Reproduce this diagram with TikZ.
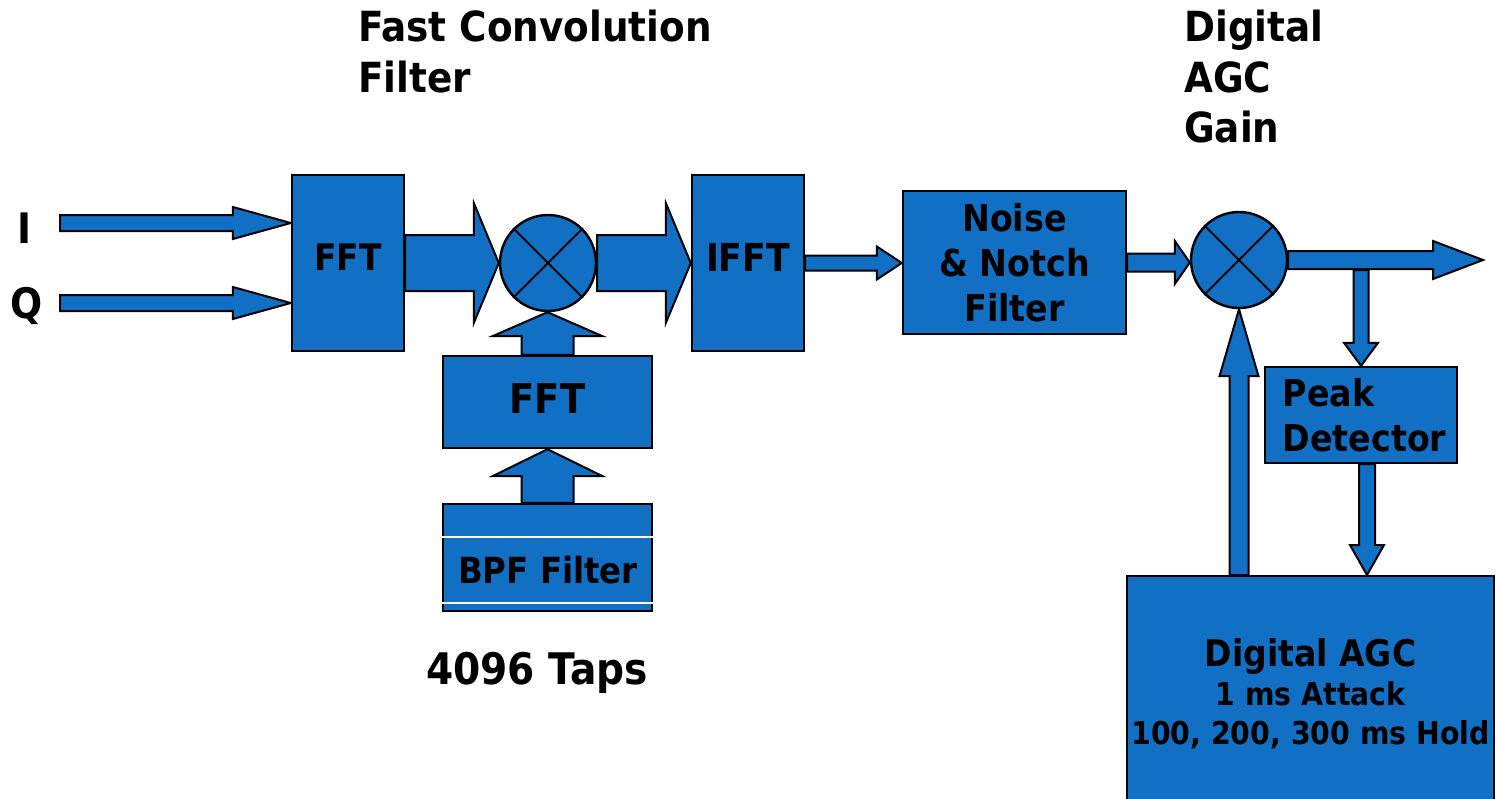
\documentclass[tikz,border=0pt]{standalone}
\usepackage{fontspec}
\setmainfont{DejaVu Sans}[FakeStretch=0.9]
\usetikzlibrary{calc}
\definecolor{bfill}{RGB}{17,111,196}
\pgfdeclarelayer{bg}
\pgfsetlayers{bg,main}
\newcommand\fsz[2]{\fontsize{#1}{#2}\selectfont}
\tikzset{
 box/.style={draw=black, line width=2.4pt, fill=bfill, inner sep=0pt, font=\bfseries\fsz{37}{45}, align=center},
 arr/.style={draw=black, line width=2pt, fill=bfill, line join=miter},
 mult/.style={circle, draw=black, line width=2.4pt, fill=bfill, minimum size=96pt, inner sep=0pt},
 lbl/.style={font=\bfseries\fsz{42}{50}, inner sep=0pt},
 xline/.style={draw=black, line width=2pt},
}
% horizontal block arrow: from, to, shaft half width, head half width, head length
\newcommand\hblk[5]{\draw[arr] let \p1=(#1), \p2=(#2) in (\x1,\y1+#3) -- (\x2-#5,\y1+#3) -- (\x2-#5,\y1+#4) -- (\x2,\y1) -- (\x2-#5,\y1-#4) -- (\x2-#5,\y1-#3) -- (\x1,\y1-#3) -- cycle;}
\newcommand\vupblk[5]{\draw[arr] let \p1=(#1), \p2=(#2) in (\x1-#3,\y1) -- (\x1-#3,\y2-#5) -- (\x1-#4,\y2-#5) -- (\x1,\y2) -- (\x1+#4,\y2-#5) -- (\x1+#3,\y2-#5) -- (\x1+#3,\y1) -- cycle;}
\newcommand\vdownblk[5]{\draw[arr] let \p1=(#1), \p2=(#2) in (\x1-#3,\y1) -- (\x1-#3,\y2+#5) -- (\x1-#4,\y2+#5) -- (\x1,\y2) -- (\x1+#4,\y2+#5) -- (\x1+#3,\y2+#5) -- (\x1+#3,\y1) -- cycle;}
\begin{document}
\begin{tikzpicture}[x=1pt,y=-1pt]
\useasboundingbox (0,0) rectangle (1496,798);

% labels
\node[lbl] (ilab) at (25,228) {I};
\node[lbl] (qlab) at (27,306) {Q};
\node[lbl, align=left, anchor=north west, font=\bfseries\fsz{41.5}{50.5}] (title1) at (358,10) {Fast Convolution\\Filter};
\node[lbl, align=left, anchor=north west, font=\bfseries\fsz{41.5}{50.5}] (title2) at (1184,10) {Digital\\AGC\\Gain};
\node[lbl, font=\bfseries\fsz{43.5}{45}] (taps) at (537,673) {4096 Taps};

% blocks
\node[box, minimum width=112pt, minimum height=176pt, font=\bfseries\fsz{36.5}{45}, text height=26.6pt, text depth=12pt] (fft1) at (348,263) {FFT};
\node[mult] (mul1) at (548,263) {};
\node[box, minimum width=112pt, minimum height=176pt, font=\bfseries\fsz{38.5}{45}, text height=28pt, text depth=12pt] (ifft) at (748,263) {IFFT};
\node[box, minimum width=223pt, minimum height=143pt] (noise) at (1014.5,262.5) {Noise\\\& Notch\\Filter};
\node[box, minimum width=192pt, minimum height=96pt, align=left] (peak) at (1361,415) {\hspace*{7pt}Peak\\\hspace*{7pt}Detector};
\node[mult] (mul2) at (1239,260) {};
\node[box, minimum width=367pt, minimum height=235pt, anchor=north, font=\bfseries\fsz{31.5}{39}] (agc) at (1310.5,575) {{\fsz{36.7}{39}Digital AGC}\\1 ms Attack\\100, 200, 300 ms Hold};
\node[box, minimum width=209pt, minimum height=92pt, font=\bfseries\fsz{41}{45}, text height=30pt, text depth=8pt] (fft2) at (547.5,402) {FFT};
\node[box, minimum width=209pt, minimum height=107pt] (bpf) at (547.5,557.5) {};
\node[lbl, font=\bfseries\fsz{36}{45}] (bpftext) at (548,570) {BPF Filter};
\draw[white, line width=2.2pt] (bpf.west |- 0,537) -- (bpf.east |- 0,537);
\draw[white, line width=2.2pt] (bpf.west |- 0,603) -- (bpf.east |- 0,603);

% multiplier crosses
\draw[xline] (mul1.north west) -- (mul1.south east) (mul1.north east) -- (mul1.south west);
\draw[xline] (mul2.north west) -- (mul2.south east) (mul2.north east) -- (mul2.south west);

% connectors
\coordinate (iin) at (60,223);
\coordinate (qin) at (60,303);
\coordinate (out) at (1483,260);
\coordinate (tap) at (1361,270);
\coordinate (pdn) at ($(peak.south)+(6,0)$);
\coordinate (fb) at (agc.north -| mul2.south);
\begin{pgfonlayer}{bg}
\fill[white] (0,0) rectangle (1496,798);
\hblk{iin}{fft1.west}{8pt}{16pt}{58pt}
\hblk{qin}{fft1.west}{8pt}{16pt}{58pt}
\hblk{fft1.east}{mul1.west}{28pt}{60pt}{25pt}
\hblk{mul1.east}{ifft.west}{28pt}{60pt}{25pt}
\hblk{ifft.east}{noise.west}{7.5pt}{16.5pt}{25pt}
\hblk{noise.east}{mul2.west}{9pt}{21.5pt}{15pt}
\hblk{mul2.east}{out}{9pt}{19pt}{50pt}
\vdownblk{tap}{peak.north}{7.5pt}{17pt}{23pt}
\vdownblk{pdn}{agc.north}{8pt}{17pt}{30pt}
\vupblk{fb}{mul2.south}{9.5pt}{19.5pt}{67pt}
\vupblk{fft2.north}{mul1.south}{26pt}{55pt}{24pt}
\vupblk{bpf.north}{fft2.south}{26pt}{55pt}{27pt}
\end{pgfonlayer}
\end{tikzpicture}
\end{document}
